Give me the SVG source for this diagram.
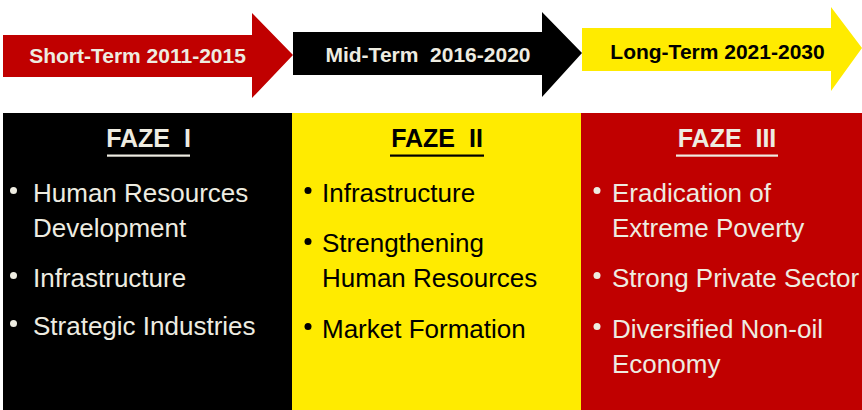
<svg xmlns="http://www.w3.org/2000/svg" width="862" height="410" viewBox="0 0 862 410">
  <style>
    .lbl { font-family: "Liberation Sans", Arial, sans-serif; font-weight: bold; font-size: 21px; text-anchor: middle; }
    .head { font-family: "Liberation Sans", Arial, sans-serif; font-weight: bold; font-size: 25px; text-anchor: middle; }
    .item { font-family: "Liberation Sans", Arial, sans-serif; font-size: 26px; }
    .light { fill: #EEECE1; }
    .dark { fill: #000000; }
  </style>
  <rect width="862" height="410" fill="#FFFFFF"/>

  <!-- timeline arrows -->
  <g id="arrow-short">
    <polygon points="3,35 252,35 252,13 293,55 252,98 252,77 3,77" fill="#C00000"/>
    <text class="lbl light" x="137.5" y="62.8">Short-Term 2011-2015</text>
  </g>
  <g id="arrow-mid">
    <polygon points="293,32 542,32 542,12 582,53 542,97 542,75 293,75" fill="#000000"/>
    <text class="lbl light" x="428" y="62.3" xml:space="preserve">Mid-Term  2016-2020</text>
  </g>
  <g id="arrow-long">
    <polygon points="582,28 831,28 831,7 862,48 831,91 831,71 582,71" fill="#FFEB00"/>
    <text class="lbl dark" x="717.5" y="58.5">Long-Term 2021-2030</text>
  </g>

  <!-- phase panels -->
  <g id="faze-1">
    <rect x="3" y="113" width="289" height="297" fill="#000000"/>
    <text class="head light" x="148.5" y="147" xml:space="preserve">FAZE  I</text>
    <rect x="107" y="154.5" width="83" height="2.2" fill="#EEECE1"/>
    <g class="light">
      <circle cx="13.5" cy="190.5" r="3.5"/>
      <circle cx="13.5" cy="275.5" r="3.5"/>
      <circle cx="13.5" cy="323.5" r="3.5"/>
    </g>
    <text class="item light" x="33" y="202">Human Resources</text>
    <text class="item light" x="33" y="237">Development</text>
    <text class="item light" x="33" y="287">Infrastructure</text>
    <text class="item light" x="33" y="335">Strategic Industries</text>
  </g>

  <g id="faze-2">
    <rect x="292" y="113" width="289" height="297" fill="#FFEB00"/>
    <text class="head dark" x="437" y="147" xml:space="preserve">FAZE  II</text>
    <rect x="390" y="154.5" width="94" height="2.2" fill="#000000"/>
    <g class="dark">
      <circle cx="308" cy="190.5" r="3.5"/>
      <circle cx="308" cy="241.5" r="3.5"/>
      <circle cx="308" cy="326.5" r="3.5"/>
    </g>
    <text class="item dark" x="322" y="202">Infrastructure</text>
    <text class="item dark" x="322" y="252">Strengthening</text>
    <text class="item dark" x="322" y="287">Human Resources</text>
    <text class="item dark" x="322" y="338">Market Formation</text>
  </g>

  <g id="faze-3">
    <rect x="581" y="113" width="281" height="297" fill="#C00000"/>
    <text class="head light" x="727" y="147" xml:space="preserve">FAZE  III</text>
    <rect x="676" y="154.5" width="102" height="2.2" fill="#EEECE1"/>
    <g class="light">
      <circle cx="597" cy="190.5" r="3.5"/>
      <circle cx="597" cy="275.5" r="3.5"/>
      <circle cx="597" cy="326.5" r="3.5"/>
    </g>
    <text class="item light" x="612" y="202">Eradication of</text>
    <text class="item light" x="612" y="237">Extreme Poverty</text>
    <text class="item light" x="612" y="287">Strong Private Sector</text>
    <text class="item light" x="612" y="338">Diversified Non-oil</text>
    <text class="item light" x="612" y="373">Economy</text>
  </g>
</svg>
